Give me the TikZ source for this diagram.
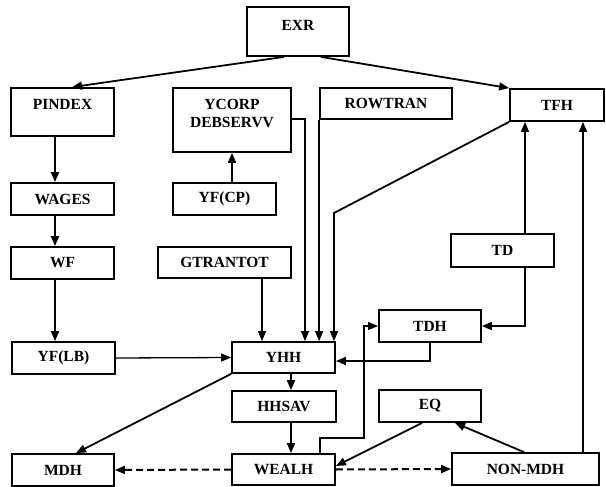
\documentclass[tikz,border=0pt]{standalone}
\usepackage{fontspec}
\setmainfont{Liberation Serif}
\usetikzlibrary{arrows.meta}
\begin{document}
\begin{tikzpicture}[x=1pt,y=-1pt,
  box/.style={draw,line width=1.8pt,inner sep=0pt,font=\fontsize{15.5}{18}\selectfont\bfseries},
  arr/.style={line width=1.8pt,-{Triangle[length=10pt,width=8pt]}},
  tarr/.style={line width=1.3pt,-{Triangle[length=10pt,width=8pt]}},
  darr/.style={line width=2pt,dash pattern=on 7pt off 4pt,-{Triangle[length=10pt,width=8pt]}}]
\useasboundingbox (0,0) rectangle (606,487);
% boxes
\node[box] (exr) at (298,31.5) {\parbox[c][49pt][t]{102pt}{\centering\vspace*{13pt}EXR}};
\node[box] (pindex) at (62.5,112) {\parbox[c][48pt][t]{103pt}{\centering\vspace*{11pt}PINDEX}};
\node[box] (ycorp) at (232,120) {\parbox[c][64pt][t]{118pt}{\centering\vspace*{11pt}YCORP\\DEBSERVV}};
\node[box,minimum width=132pt,minimum height=31pt] (rowtran) at (386,103.5) {ROWTRAN};
\node[box,minimum width=94pt,minimum height=32pt] (tfh) at (557,105) {TFH};
\node[box,minimum width=103pt,minimum height=32pt] (wages) at (62.5,199) {WAGES};
\node[box,minimum width=103pt,minimum height=32pt] (yfcp) at (224.5,199) {YF(CP)};
\node[box,minimum width=103pt,minimum height=32pt] (wf) at (62.5,263) {WF};
\node[box,minimum width=133pt,minimum height=31pt] (gtrantot) at (224.5,262.5) {GTRANTOT};
\node[box,minimum width=103pt,minimum height=33pt] (td) at (502.5,250.5) {TD};
\node[box,minimum width=102pt,minimum height=32pt] (tdh) at (430,326) {TDH};
\node[box,minimum width=103pt,minimum height=32pt] (yflb) at (63.5,358) {YF(LB)};
\node[box,minimum width=103pt,minimum height=31pt] (yhh) at (283.5,357.5) {YHH};
\node[box,minimum width=104pt,minimum height=31pt] (hhsav) at (284,406.5) {HHSAV};
\node[box,minimum width=102pt,minimum height=32pt] (eq) at (430,406) {EQ};
\node[box,minimum width=102pt,minimum height=32pt] (mdh) at (63,470) {MDH};
\node[box,minimum width=103pt,minimum height=31pt] (wealh) at (283.5,469.5) {WEALH};
\node[box,minimum width=147pt,minimum height=32pt] (nonmdh) at (525.5,469) {NON-MDH};
% bend points
\coordinate (tfhbend) at (334,213);
\coordinate (wb1) at (320,438);
\coordinate (wb2) at (364,438);
% connectors
\draw[arr] (exr.south -| 284,0) -- (pindex.north -| 72,0);
\draw[arr] (exr.south -| 321,0) -- (tfh.north west);
\draw[arr] (pindex.south -| 55,0) -- (wages.north -| 55,0);
\draw[arr] (wages.south -| 55,0) -- (wf.north -| 55,0);
\draw[arr] (wf.south -| 55,0) -- (yflb.north -| 55,0);
\draw[arr] (yfcp.north -| 232,0) -- (ycorp.south -| 232,0);
\draw[tarr] (ycorp.east |- 0,119) -| (yhh.north -| 305,0);
\draw[tarr] (rowtran.south west) -- (yhh.north -| rowtran.south west);
\draw[arr] (tfh.south west) -- (tfhbend) -- (yhh.north -| tfhbend);
\draw[tarr] (gtrantot.south -| 262,0) -- (yhh.north -| 262,0);
\draw[tarr] (yflb.east) -- (yhh.west);
\draw[tarr] (td.north -| 525,0) -- (tfh.south -| 525,0);
\draw[arr] (td.south -| 525,0) |- (tdh.east);
\draw[arr] (tdh.south) |- (yhh.east |- 0,361);
\draw[arr] (yhh.south -| 291,0) -- (hhsav.north -| 291,0);
\draw[arr] (hhsav.south -| 291,0) -- (wealh.north -| 291,0);
\draw[tarr] (wealh.north -| wb1) -- (wb1) -- (wb2) |- (tdh.west);
\draw[arr] (yhh.south west) -- (mdh.north -| 76,0);
\draw[darr] (wealh.west) -- (mdh.east);
\draw[darr] (wealh.east) -- (nonmdh.west);
\draw[arr] (eq.south -| 422,0) -- (wealh.east |- 0,466);
\draw[arr] (nonmdh.north -| 524,0) -- (eq.south -| 455,0);
\draw[tarr] (nonmdh.north -| 583,0) -- (tfh.south -| 583,0);
\end{tikzpicture}
\end{document}
